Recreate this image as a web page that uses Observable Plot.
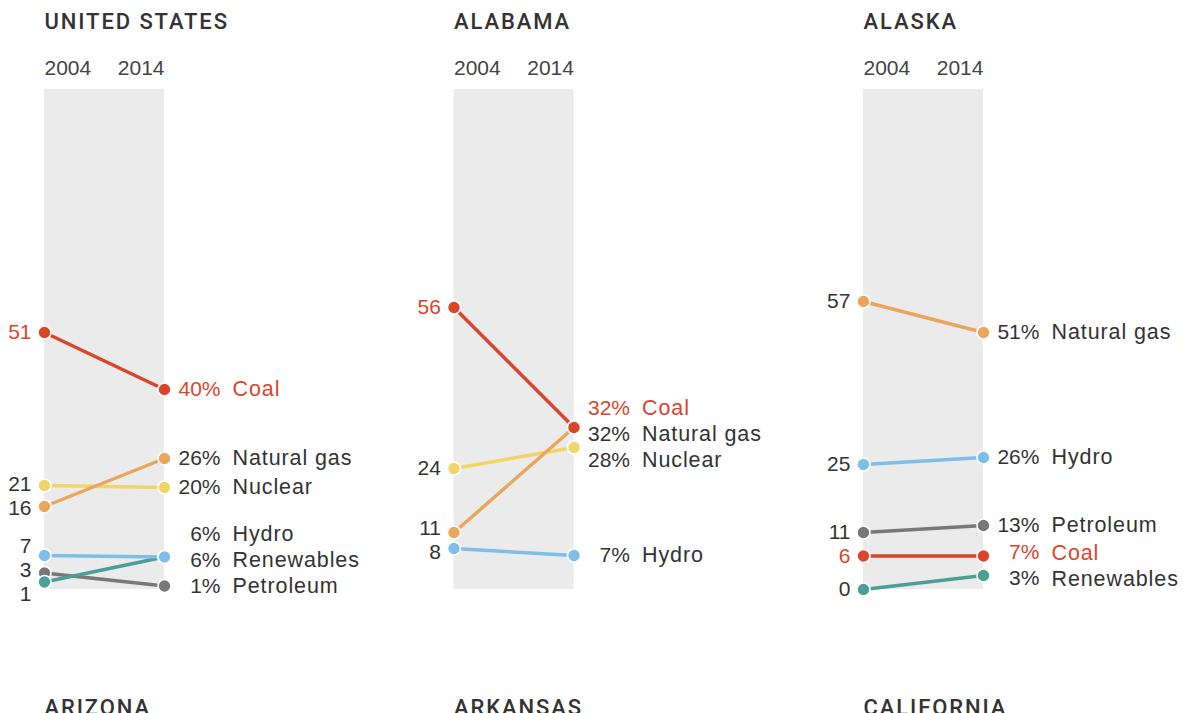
<!DOCTYPE html>
<html><head><meta charset="utf-8">
<script src="https://cdn.jsdelivr.net/npm/d3@7"></script>
<script src="https://cdn.jsdelivr.net/npm/@observablehq/plot@0.6"></script>
<style>
html,body{margin:0;padding:0;background:#fff;overflow:hidden;}
</style>
</head><body><div id="chart"></div>
<script>
// ---- data ----
const states = ["UNITED STATES", "ALABAMA", "ALASKA", "ARIZONA", "ARKANSAS", "CALIFORNIA"];
const years = [2004, 2014];
// drawing order (bottom to top)
const sources = ["Petroleum", "Renewables", "Hydro", "Nuclear", "Natural gas", "Coal"];
const sourceColors = ["#787878", "#4b9f97", "#7dbfe8", "#f3d466", "#eaa65c", "#d9462b"];

// shares (%) by source, in the order of `sources`; null = not shown
const us2004 = [3.3, 1.5, 6.8, 20.8, 16.6, 51.4];
const us2014 = [0.7, 6.5, 6.5, 20.4, 26.2, 40.0];
const usLabels2004 = ["3", "1", "7", "21", "16", "51"];
const usLabels2014 = ["1%", "6%", "6%", "20%", "26%", "40%"];

const al2004 = [null, null, 8.2, 24.2, 11.4, 56.4];
const al2014 = [null, null, 6.8, 28.4, 32.4, 32.4];
const alLabels2004 = [null, null, "8", "24", "11", "56"];
const alLabels2014 = [null, null, "7%", "28%", "32%", "32%"];

const ak2004 = [11.4, 0.0, 25.0, null, 57.6, 6.7];
const ak2014 = [12.8, 2.8, 26.4, null, 51.4, 6.7];
const akLabels2004 = ["11", "0", "25", null, "57", "6"];
const akLabels2014 = ["13%", "3%", "26%", null, "51%", "7%"];

const panelValues = [
  [us2004, us2014, usLabels2004, usLabels2014],
  [al2004, al2014, alLabels2004, alLabels2014],
  [ak2004, ak2014, akLabels2004, akLabels2014]
];

// ---- layout constants ----
const Y_RANGE = [589, 89];
const X_RANGE = [44, 164];
const textColor = "#333";
const coalColor = "#d9462b";

// ---- build tables ----
const panels = states.map((s, i) => ({state: s, col: i % 3, row: Math.floor(i / 3), hasData: i < panelValues.length}));
const records = [];
panelValues.forEach(([a, b, la, lb], i) => {
  sources.forEach((src, j) => {
    if (a[j] == null) return;
    records.push({state: states[i], col: i % 3, row: Math.floor(i / 3), source: src, order: j,
      v0: a[j], v1: b[j], l0: la[j], l1: lb[j]});
  });
});

// label de-overlap in pixel space
const yPx = d3.scaleLinear([0, 100], Y_RANGE);
function relax(items, key, out, gap, maxPx) {
  const ps = items.map(d => ({d, p: yPx(d[key])}))
    .sort((a, b) => (a.p - b.p) || (b.d.order - a.d.order));
  for (let it = 0; it < 600; it++) {
    let moved = false;
    for (let k = 1; k < ps.length; k++) {
      const dd = ps[k].p - ps[k - 1].p;
      if (dd < gap - 0.01) { const s = (gap - dd) / 2; ps[k - 1].p -= s; ps[k].p += s; moved = true; }
    }
    if (maxPx != null) for (const q of ps) if (q.p > maxPx) q.p = maxPx;
    if (!moved) break;
  }
  for (const q of ps) q.d[out] = yPx.invert(q.p);
}
d3.groups(records, d => d.state).forEach(([, items]) => {
  relax(items, "v0", "ly0", 24, null);
  relax(items, "v1", "ly1", 26, Y_RANGE[0] - 3);
});

const isCoal = d => d.source === "Coal";
const notCoal = d => d.source !== "Coal";
const dataPanels = panels.filter(p => p.hasData);

const fontFamily = "'Liberation Sans', Arial, Helvetica, sans-serif";

const chart = Plot.plot({
  width: 1183,
  height: 1372,
  marginTop: 0, marginRight: 0, marginBottom: 0, marginLeft: 0,
  x: {domain: years, range: X_RANGE, axis: null},
  y: {domain: [0, 100], range: Y_RANGE, axis: null},
  fx: {domain: [0, 1, 2], paddingInner: 0.111, paddingOuter: 0, round: false, axis: null},
  fy: {domain: [0, 1], paddingInner: 0, paddingOuter: 0, round: false, axis: null},
  color: {domain: sources, range: sourceColors},
  style: {fontFamily, fontSize: "21px", color: textColor, background: "#fff"},
  marks: [
    Plot.rect(dataPanels, {fx: "col", fy: "row", x1: years[0], x2: years[1], y1: 0, y2: 100, fill: "#ebebeb"}),
    Plot.text(panels, {fx: "col", fy: "row", x: years[0], text: "state", frameAnchor: "top", dy: 21,
      textAnchor: "start", lineAnchor: "middle", fontSize: 22, fontWeight: 500, fill: "#333",
      fontFamily: "Roboto, 'Liberation Sans', sans-serif"}),
    Plot.text(dataPanels, {fx: "col", fy: "row", x: years[0], text: () => String(years[0]), frameAnchor: "top", dy: 68,
      textAnchor: "start", lineAnchor: "middle", fontSize: 21, fill: "#444"}),
    Plot.text(dataPanels, {fx: "col", fy: "row", x: years[1], text: () => String(years[1]), frameAnchor: "top", dy: 68,
      textAnchor: "end", lineAnchor: "middle", fontSize: 21, fill: "#444"}),
    Plot.link(records, {fx: "col", fy: "row", x1: years[0], x2: years[1], y1: "v0", y2: "v1",
      stroke: "source", strokeWidth: 3.5}),
    Plot.dot(records, {fx: "col", fy: "row", x: years[0], y: "v0", fill: "source", stroke: "white", strokeWidth: 1.6, r: 6.5}),
    Plot.dot(records, {fx: "col", fy: "row", x: years[1], y: "v1", fill: "source", stroke: "white", strokeWidth: 1.6, r: 6.5}),
    // left value labels
    Plot.text(records, {filter: notCoal, fx: "col", fy: "row", x: years[0], y: "ly0", text: "l0",
      textAnchor: "end", dx: -13, fontSize: 21, fill: textColor}),
    Plot.text(records, {filter: isCoal, fx: "col", fy: "row", x: years[0], y: "ly0", text: "l0",
      textAnchor: "end", dx: -13, fontSize: 21, fill: coalColor}),
    // right percent labels
    Plot.text(records, {filter: notCoal, fx: "col", fy: "row", x: years[1], y: "ly1", text: "l1",
      textAnchor: "end", dx: 56, fontSize: 21, fill: textColor}),
    Plot.text(records, {filter: isCoal, fx: "col", fy: "row", x: years[1], y: "ly1", text: "l1",
      textAnchor: "end", dx: 56, fontSize: 21, fill: coalColor}),
    // right source names
    Plot.text(records, {filter: notCoal, fx: "col", fy: "row", x: years[1], y: "ly1", text: "source",
      textAnchor: "start", dx: 68, fontSize: 21.5, fill: textColor}),
    Plot.text(records, {filter: isCoal, fx: "col", fy: "row", x: years[1], y: "ly1", text: "source",
      textAnchor: "start", dx: 68, fontSize: 21.5, fill: coalColor})
  ]
});

// letter-spacing tweaks for panel titles and source names
const titleSet = new Set(states);
const sourceSet = new Set(sources);
chart.querySelectorAll("text").forEach(t => {
  if (titleSet.has(t.textContent)) t.setAttribute("letter-spacing", "1.9px");
  else if (sourceSet.has(t.textContent)) t.setAttribute("letter-spacing", "0.9px");
});
document.getElementById("chart").appendChild(chart);
</script>
</body></html>
